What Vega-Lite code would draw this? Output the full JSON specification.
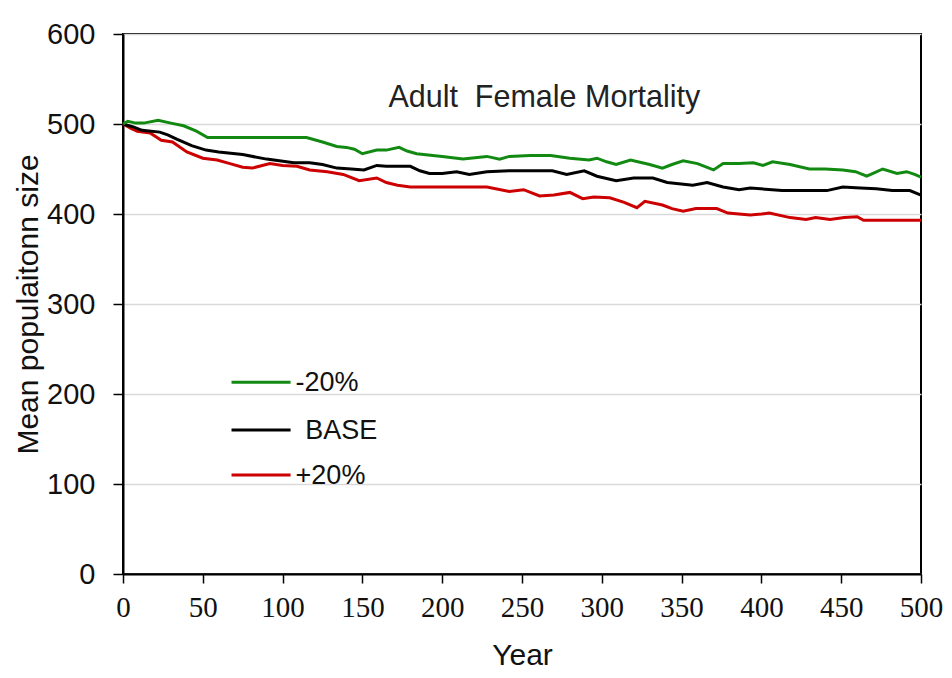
{
  "$schema": "https://vega.github.io/schema/vega-lite/v6.json",
  "autosize": {"type": "none"},
  "width": 798,
  "height": 540,
  "padding": {"left": 123, "top": 34, "right": 31, "bottom": 104},
  "background": "white",
  "config": {
    "view": {"stroke": "#000000", "strokeWidth": 2},
    "font": "Liberation Sans"
  },
  "datasets": {
    "lines": [
      {"year": 0, "series": "+20%", "value": 500},
      {"year": 5, "series": "+20%", "value": 495},
      {"year": 9, "series": "+20%", "value": 492},
      {"year": 17, "series": "+20%", "value": 490},
      {"year": 24, "series": "+20%", "value": 482},
      {"year": 31, "series": "+20%", "value": 480},
      {"year": 40, "series": "+20%", "value": 469},
      {"year": 50, "series": "+20%", "value": 462},
      {"year": 59, "series": "+20%", "value": 460},
      {"year": 67, "series": "+20%", "value": 456},
      {"year": 75, "series": "+20%", "value": 452},
      {"year": 81, "series": "+20%", "value": 451},
      {"year": 92, "series": "+20%", "value": 456},
      {"year": 100, "series": "+20%", "value": 454},
      {"year": 109, "series": "+20%", "value": 453},
      {"year": 117, "series": "+20%", "value": 449},
      {"year": 128, "series": "+20%", "value": 447},
      {"year": 138, "series": "+20%", "value": 444},
      {"year": 148, "series": "+20%", "value": 437},
      {"year": 159, "series": "+20%", "value": 440},
      {"year": 165, "series": "+20%", "value": 435},
      {"year": 172, "series": "+20%", "value": 432},
      {"year": 180, "series": "+20%", "value": 430},
      {"year": 228, "series": "+20%", "value": 430},
      {"year": 242, "series": "+20%", "value": 425},
      {"year": 251, "series": "+20%", "value": 427},
      {"year": 261, "series": "+20%", "value": 420},
      {"year": 270, "series": "+20%", "value": 421},
      {"year": 280, "series": "+20%", "value": 424},
      {"year": 288, "series": "+20%", "value": 417},
      {"year": 295, "series": "+20%", "value": 419},
      {"year": 305, "series": "+20%", "value": 418},
      {"year": 314, "series": "+20%", "value": 413},
      {"year": 322, "series": "+20%", "value": 407},
      {"year": 327, "series": "+20%", "value": 414},
      {"year": 338, "series": "+20%", "value": 410},
      {"year": 344, "series": "+20%", "value": 406},
      {"year": 351, "series": "+20%", "value": 403},
      {"year": 359, "series": "+20%", "value": 406},
      {"year": 372, "series": "+20%", "value": 406},
      {"year": 379, "series": "+20%", "value": 401},
      {"year": 393, "series": "+20%", "value": 399},
      {"year": 400, "series": "+20%", "value": 400},
      {"year": 405, "series": "+20%", "value": 401},
      {"year": 418, "series": "+20%", "value": 396},
      {"year": 428, "series": "+20%", "value": 394},
      {"year": 434, "series": "+20%", "value": 396},
      {"year": 443, "series": "+20%", "value": 394},
      {"year": 452, "series": "+20%", "value": 396},
      {"year": 460, "series": "+20%", "value": 397},
      {"year": 464, "series": "+20%", "value": 393},
      {"year": 500, "series": "+20%", "value": 393},

      {"year": 0, "series": "BASE", "value": 500},
      {"year": 6, "series": "BASE", "value": 497},
      {"year": 12, "series": "BASE", "value": 493},
      {"year": 23, "series": "BASE", "value": 491},
      {"year": 28, "series": "BASE", "value": 488},
      {"year": 34, "series": "BASE", "value": 483},
      {"year": 43, "series": "BASE", "value": 476},
      {"year": 52, "series": "BASE", "value": 471},
      {"year": 60, "series": "BASE", "value": 469},
      {"year": 75, "series": "BASE", "value": 466},
      {"year": 90, "series": "BASE", "value": 461},
      {"year": 107, "series": "BASE", "value": 457},
      {"year": 117, "series": "BASE", "value": 457},
      {"year": 125, "series": "BASE", "value": 455},
      {"year": 134, "series": "BASE", "value": 451},
      {"year": 143, "series": "BASE", "value": 450},
      {"year": 151, "series": "BASE", "value": 449},
      {"year": 159, "series": "BASE", "value": 454},
      {"year": 165, "series": "BASE", "value": 453},
      {"year": 180, "series": "BASE", "value": 453},
      {"year": 186, "series": "BASE", "value": 448},
      {"year": 192, "series": "BASE", "value": 445},
      {"year": 200, "series": "BASE", "value": 445},
      {"year": 209, "series": "BASE", "value": 447},
      {"year": 217, "series": "BASE", "value": 444},
      {"year": 228, "series": "BASE", "value": 447},
      {"year": 242, "series": "BASE", "value": 448},
      {"year": 255, "series": "BASE", "value": 448},
      {"year": 269, "series": "BASE", "value": 448},
      {"year": 278, "series": "BASE", "value": 444},
      {"year": 289, "series": "BASE", "value": 448},
      {"year": 297, "series": "BASE", "value": 442},
      {"year": 309, "series": "BASE", "value": 437},
      {"year": 320, "series": "BASE", "value": 440},
      {"year": 332, "series": "BASE", "value": 440},
      {"year": 341, "series": "BASE", "value": 435},
      {"year": 357, "series": "BASE", "value": 432},
      {"year": 366, "series": "BASE", "value": 435},
      {"year": 376, "series": "BASE", "value": 430},
      {"year": 386, "series": "BASE", "value": 427},
      {"year": 393, "series": "BASE", "value": 429},
      {"year": 413, "series": "BASE", "value": 426},
      {"year": 441, "series": "BASE", "value": 426},
      {"year": 451, "series": "BASE", "value": 430},
      {"year": 462, "series": "BASE", "value": 429},
      {"year": 472, "series": "BASE", "value": 428},
      {"year": 482, "series": "BASE", "value": 426},
      {"year": 493, "series": "BASE", "value": 426},
      {"year": 500, "series": "BASE", "value": 421},

      {"year": 0, "series": "-20%", "value": 500},
      {"year": 3, "series": "-20%", "value": 503},
      {"year": 8, "series": "-20%", "value": 501},
      {"year": 13, "series": "-20%", "value": 501},
      {"year": 22, "series": "-20%", "value": 504},
      {"year": 30, "series": "-20%", "value": 501},
      {"year": 38, "series": "-20%", "value": 498},
      {"year": 46, "series": "-20%", "value": 492},
      {"year": 53, "series": "-20%", "value": 485},
      {"year": 115, "series": "-20%", "value": 485},
      {"year": 125, "series": "-20%", "value": 480},
      {"year": 134, "series": "-20%", "value": 475},
      {"year": 140, "series": "-20%", "value": 474},
      {"year": 145, "series": "-20%", "value": 472},
      {"year": 150, "series": "-20%", "value": 467},
      {"year": 159, "series": "-20%", "value": 471},
      {"year": 165, "series": "-20%", "value": 471},
      {"year": 173, "series": "-20%", "value": 474},
      {"year": 178, "series": "-20%", "value": 470},
      {"year": 184, "series": "-20%", "value": 467},
      {"year": 200, "series": "-20%", "value": 464},
      {"year": 213, "series": "-20%", "value": 461},
      {"year": 228, "series": "-20%", "value": 464},
      {"year": 236, "series": "-20%", "value": 461},
      {"year": 242, "series": "-20%", "value": 464},
      {"year": 255, "series": "-20%", "value": 465},
      {"year": 268, "series": "-20%", "value": 465},
      {"year": 280, "series": "-20%", "value": 462},
      {"year": 292, "series": "-20%", "value": 460},
      {"year": 297, "series": "-20%", "value": 462},
      {"year": 303, "series": "-20%", "value": 458},
      {"year": 309, "series": "-20%", "value": 455},
      {"year": 318, "series": "-20%", "value": 460},
      {"year": 330, "series": "-20%", "value": 455},
      {"year": 338, "series": "-20%", "value": 451},
      {"year": 344, "series": "-20%", "value": 455},
      {"year": 351, "series": "-20%", "value": 459},
      {"year": 360, "series": "-20%", "value": 456},
      {"year": 370, "series": "-20%", "value": 449},
      {"year": 376, "series": "-20%", "value": 456},
      {"year": 386, "series": "-20%", "value": 456},
      {"year": 395, "series": "-20%", "value": 457},
      {"year": 401, "series": "-20%", "value": 454},
      {"year": 407, "series": "-20%", "value": 458},
      {"year": 418, "series": "-20%", "value": 455},
      {"year": 430, "series": "-20%", "value": 450},
      {"year": 440, "series": "-20%", "value": 450},
      {"year": 451, "series": "-20%", "value": 449},
      {"year": 459, "series": "-20%", "value": 447},
      {"year": 466, "series": "-20%", "value": 442},
      {"year": 471, "series": "-20%", "value": 446},
      {"year": 476, "series": "-20%", "value": 450},
      {"year": 485, "series": "-20%", "value": 445},
      {"year": 491, "series": "-20%", "value": 447},
      {"year": 496, "series": "-20%", "value": 444},
      {"year": 500, "series": "-20%", "value": 441}
    ],
    "legend": [
      {"series": "-20%", "label": "-20%", "x1": 68, "x2": 105, "tx": 105, "y": 213},
      {"series": "BASE", "label": "BASE", "x1": 68, "x2": 105, "tx": 111, "y": 160},
      {"series": "+20%", "label": "+20%", "x1": 68, "x2": 105, "tx": 105, "y": 110}
    ],
    "title": [
      {"label": "Adult\u00a0 Female Mortality", "x": 264, "y": 529}
    ]
  },
  "layer": [
    {
      "data": {"name": "lines"},
      "mark": {"type": "line", "strokeWidth": 3, "interpolate": "linear"},
      "encoding": {
        "x": {
          "field": "year", "type": "quantitative",
          "scale": {"domain": [0, 500], "nice": false, "zero": false},
          "axis": {
            "title": "Year",
            "values": [0, 25, 50, 75, 100, 125, 150, 175, 200, 225, 250, 275, 300, 325, 350, 375, 400, 425, 450, 475, 500],
            "labelExpr": "datum.value % 50 === 0 ? datum.label : ''",
            "grid": false,
            "domainColor": "#000000", "domainWidth": 2,
            "tickColor": "#000000", "tickWidth": 1.5,
            "tickSize": {"condition": {"test": "datum.value % 50 === 0", "value": 9}, "value": 7},
            "labelFontSize": 29, "labelColor": "#111111", "labelPadding": 10,
            "labelFont": "Liberation Sans Narrow",
            "labelFlush": false, "labelOverlap": false,
            "titleFontSize": 30, "titleFontWeight": "normal", "titleColor": "#111111",
            "titlePadding": 18, "titleFont": "Liberation Sans"
          }
        },
        "y": {
          "field": "value", "type": "quantitative",
          "scale": {"domain": [0, 600], "nice": false},
          "axis": {
            "title": "Mean populaitonn size",
            "values": [0, 100, 200, 300, 400, 500, 600],
            "grid": true, "gridColor": "#d9d9d9", "gridWidth": 1.5,
            "domainColor": "#000000", "domainWidth": 2,
            "tickColor": "#000000", "tickWidth": 1.5, "tickSize": 10,
            "labelFontSize": 29, "labelColor": "#111111", "labelPadding": 18,
            "labelFlush": false,
            "titleFontSize": 30, "titleFontWeight": "normal", "titleColor": "#111111",
            "titlePadding": 3
          }
        },
        "color": {
          "field": "series", "type": "nominal",
          "scale": {"domain": ["-20%", "BASE", "+20%"], "range": ["#128a12", "#000000", "#cc0000"]},
          "legend": null
        }
      }
    },
    {
      "data": {"name": "legend"},
      "mark": {"type": "rule", "strokeWidth": 3},
      "encoding": {
        "x": {"field": "x1", "type": "quantitative"},
        "x2": {"field": "x2"},
        "y": {"field": "y", "type": "quantitative"},
        "color": {"field": "series", "type": "nominal", "legend": null}
      }
    },
    {
      "data": {"name": "legend"},
      "mark": {"type": "text", "align": "left", "baseline": "middle", "fontSize": 27, "color": "#111111", "dx": 5, "dy": 1},
      "encoding": {
        "x": {"field": "tx", "type": "quantitative"},
        "y": {"field": "y", "type": "quantitative"},
        "text": {"field": "label"}
      }
    },
    {
      "data": {"name": "title"},
      "mark": {"type": "text", "align": "center", "baseline": "middle", "fontSize": 30.5, "color": "#222222"},
      "encoding": {
        "x": {"field": "x", "type": "quantitative"},
        "y": {"field": "y", "type": "quantitative"},
        "text": {"field": "label"}
      }
    }
  ]
}
